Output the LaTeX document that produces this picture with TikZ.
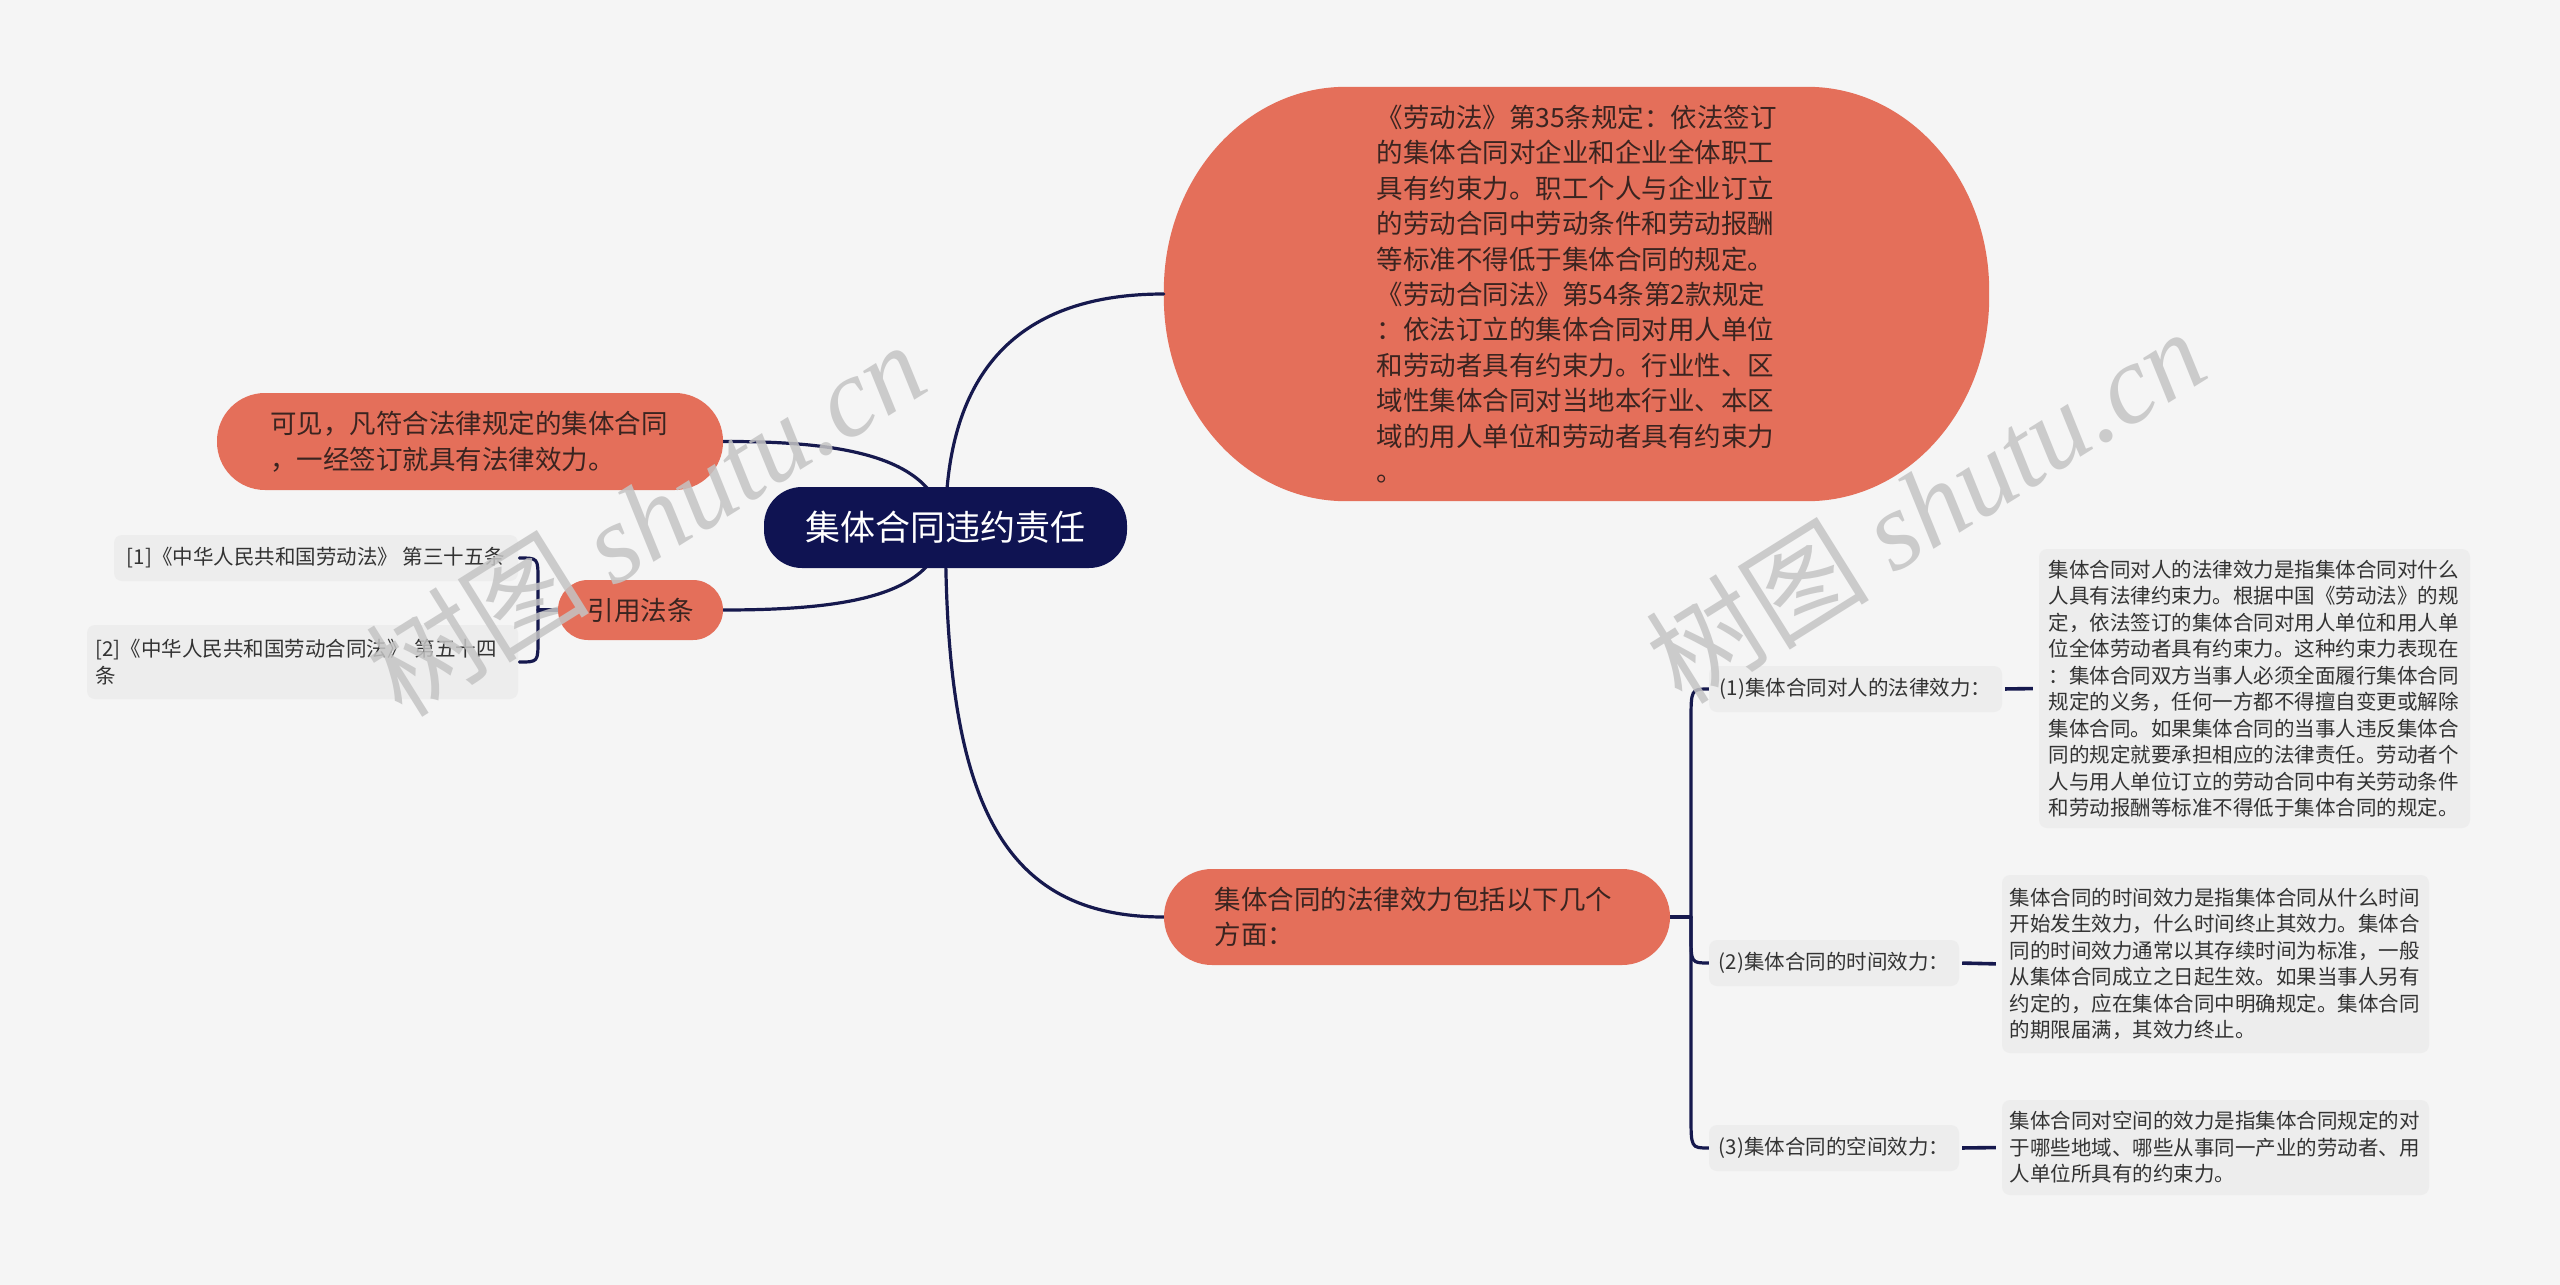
\documentclass[tikz,border=0pt]{standalone}
\usepackage{fontspec}
\setmainfont{Noto Sans CJK SC}
\newfontfamily\wmlatin{Liberation Serif}
\usetikzlibrary{backgrounds}
\definecolor{bgc}{HTML}{F5F5F5}
\definecolor{orangefill}{HTML}{E46F5A}
\definecolor{navy}{HTML}{0F1352}
\definecolor{linec}{HTML}{16194E}
\definecolor{greyfill}{HTML}{EDEDED}
\definecolor{darktext}{HTML}{3A2420}
\definecolor{smalltext}{HTML}{333333}
\definecolor{wmc}{HTML}{C4C4C4}
\begin{document}
\begin{tikzpicture}[x=1pt,y=-1pt,
  orangebox/.style={fill=orangefill, text=darktext, align=left,
    font=\fontsize{26.5}{35.4}\selectfont, inner sep=0pt},
  rootbox/.style={fill=navy, text=white, rounded corners=38pt,
    font=\fontsize{35}{42}\selectfont, minimum width=363pt, minimum height=81pt, inner sep=0pt},
  greybox/.style={fill=greyfill, text=smalltext, rounded corners=8pt, align=left,
    font=\fontsize{20.5}{26.5}\selectfont, inner sep=0pt},
  conn/.style={draw=linec, line width=3.2pt, line cap=round},
  leafconn/.style={draw=linec, line width=3.6pt, shorten <=3pt, shorten >=6pt},
  wmark/.style={text=wmc, opacity=0.85, rotate=32, inner sep=0pt}
]
\useasboundingbox (0,0) rectangle (2560,1285);

% nodes
\node[rootbox] (root) at (945.5,527.5) {集体合同违约责任};

\node[orangebox, fill=none, minimum width=825pt, minimum height=414pt, text width=400pt] (big) at (1576.5,294) {《劳动法》第35条规定：依法签订\\
的集体合同对企业和企业全体职工\\
具有约束力。职工个人与企业订立\\
的劳动合同中劳动条件和劳动报酬\\
等标准不得低于集体合同的规定。\\
《劳动合同法》第54条第2款规定\\
：依法订立的集体合同对用人单位\\
和劳动者具有约束力。行业性、区\\
域性集体合同对当地本行业、本区\\
域的用人单位和劳动者具有约束力\\
。};

\node[orangebox, rounded corners=48pt, minimum width=506pt, minimum height=97pt, text width=400pt] (see) at (470,441.5) {可见，凡符合法律规定的集体合同\\，一经签订就具有法律效力。};

\node[orangebox, rounded corners=30pt, minimum width=165pt, minimum height=60pt] (cite) at (640.5,610) {引用法条};

\node[greybox, minimum width=404pt, minimum height=46pt] (r1) at (316,558) {[1]《中华人民共和国劳动法》 第三十五条};
\node[greybox, minimum width=431pt, minimum height=74pt, text width=414pt] (r2) at (302.5,662) {[2]《中华人民共和国劳动合同法》 第五十四\\条};

\node[orangebox, rounded corners=48pt, minimum width=506pt, minimum height=96pt, text width=405pt] (eff) at (1417,917) {集体合同的法律效力包括以下几个\\方面：};

\node[greybox, minimum width=293pt, minimum height=46pt] (c1) at (1855.5,689) {(1)集体合同对人的法律效力：};
\node[greybox, minimum width=250pt, minimum height=46pt] (c2) at (1834,963) {(2)集体合同的时间效力：};
\node[greybox, minimum width=250pt, minimum height=46pt] (c3) at (1834,1148) {(3)集体合同的空间效力：};

\node[greybox, minimum width=431pt, minimum height=279pt, text width=412pt] (d1) at (2254.5,688.5) {集体合同对人的法律效力是指集体合同对什么\\
人具有法律约束力。根据中国《劳动法》的规\\
定，依法签订的集体合同对用人单位和用人单\\
位全体劳动者具有约束力。这种约束力表现在\\
：集体合同双方当事人必须全面履行集体合同\\
规定的义务，任何一方都不得擅自变更或解除\\
集体合同。如果集体合同的当事人违反集体合\\
同的规定就要承担相应的法律责任。劳动者个\\
人与用人单位订立的劳动合同中有关劳动条件\\
和劳动报酬等标准不得低于集体合同的规定。};

\node[greybox, minimum width=427pt, minimum height=178pt, text width=412pt] (d2) at (2215.5,964) {集体合同的时间效力是指集体合同从什么时间\\
开始发生效力，什么时间终止其效力。集体合\\
同的时间效力通常以其存续时间为标准，一般\\
从集体合同成立之日起生效。如果当事人另有\\
约定的，应在集体合同中明确规定。集体合同\\
的期限届满，其效力终止。};

\node[greybox, minimum width=427pt, minimum height=95pt, text width=412pt] (d3) at (2215.5,1147.5) {集体合同对空间的效力是指集体合同规定的对\\
于哪些地域、哪些从事同一产业的劳动者、用\\
人单位所具有的约束力。};

\coordinate (bj) at (538,610);
\coordinate (bx) at (1691,917);

\begin{scope}[on background layer]
  \fill[bgc] (0,0) rectangle (2560,1285);
  % big rounded shape (canvas shifts: positive yshift = up)
  \fill[orangefill] ([xshift=182pt]big.north west) -- ([xshift=-182pt]big.north east)
    arc[start angle=90, end angle=0, x radius=182pt, y radius=204pt]
    -- ([yshift=204pt]big.south east)
    arc[start angle=0, end angle=-90, x radius=182pt, y radius=204pt]
    -- ([xshift=182pt]big.south west)
    arc[start angle=-90, end angle=-180, x radius=182pt, y radius=204pt]
    -- ([yshift=-204pt]big.north west)
    arc[start angle=180, end angle=90, x radius=182pt, y radius=204pt] -- cycle;
  % connectors
  \draw[conn] (root.center) .. controls (945,380) and (1010,294) .. (big.west);
  \draw[conn] (root.center) .. controls (945,800) and (1000,917) .. (eff.west);
  \draw[conn] (see.east) .. controls (860,441) and (935,462) .. (root.center);
  \draw[conn] (cite.east) .. controls (860,610) and (935,592) .. (root.center);
  \draw[conn] (cite.west) -- (bj);
  \draw[conn] ([xshift=1pt]r1.east) .. controls (538,558) .. (538,580) -- (538,640) .. controls (538,662) .. ([xshift=1pt]r2.east);
  \draw[conn] (eff.east) -- (bx);
  \draw[conn] (bx) -- (1691,722) .. controls (1691,689) .. (c1.west);
  \draw[conn] (bx) -- (1691,935) .. controls (1691,963) .. (c2.west);
  \draw[conn] (bx) -- (1691,1115) .. controls (1691,1148) .. (c3.west);
  \draw[leafconn] (c1.east) -- (d1.west);
  \draw[leafconn] (c2.east) -- (d2.west);
  \draw[leafconn] (c3.east) -- (d3.west);
\end{scope}

% watermarks
\node[wmark] (wm1) at (645,518) {\fontsize{112}{112}\selectfont 树图 {\wmlatin\itshape shutu.cn}};
\node[wmark] (wm2) at (1925,505) {\fontsize{112}{112}\selectfont 树图 {\wmlatin\itshape shutu.cn}};
\end{tikzpicture}
\end{document}
